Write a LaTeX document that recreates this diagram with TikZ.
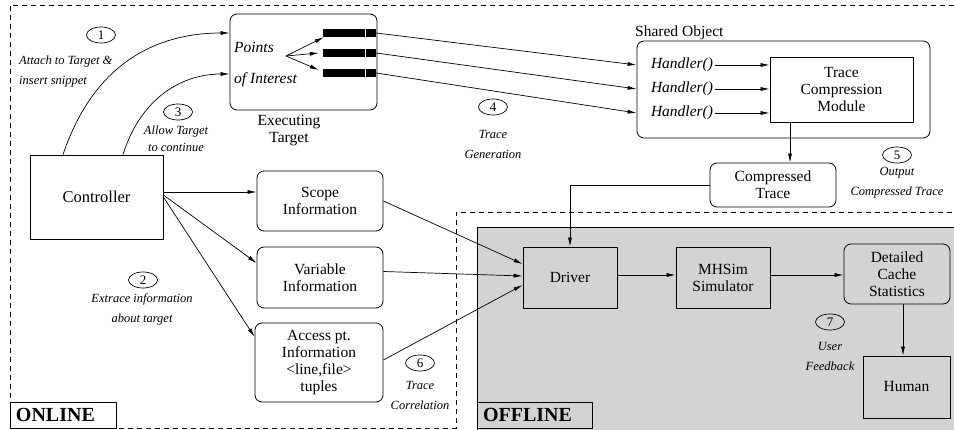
\documentclass[tikz,border=0pt]{standalone}
\usepackage{fontspec}
\setmainfont{Liberation Serif}
\usetikzlibrary{arrows.meta,shapes.geometric}
\definecolor{offgray}{RGB}{211,211,211}

\begin{document}
\begin{tikzpicture}[
    x=1pt, y=-1pt,
    every node/.style={font=\fontsize{15.5}{17}\selectfont},
    box/.style={
      rectangle,
      draw,
      line width=0.8pt,
      align=center,
      inner sep=0pt
    },
    rbox/.style={box, rounded corners=7pt},
    num/.style={ellipse, draw, line width=0.7pt, minimum width=29pt,
      minimum height=16pt, inner sep=0pt, font=\fontsize{13}{13}\selectfont},
    note/.style={align=center, inner sep=0pt, font=\fontsize{12.5}{20}\selectfont\itshape},
    bar/.style={rectangle, fill=black, minimum width=53pt, minimum height=8pt, inner sep=0pt},
    tag/.style={rectangle, draw, line width=0.8pt, inner xsep=6pt, inner ysep=0pt,
      minimum height=26pt, align=left, font=\fontsize{20}{20}\selectfont\bfseries},
    region/.style={dash pattern=on 5pt off 4pt, line width=0.7pt},
    arr/.style={-{Latex[length=9pt,width=4pt]}, line width=0.7pt}
  ]
    \useasboundingbox (0,0) rectangle (954,430);

    % offline area
    \fill[offgray] (477,227) rectangle (955,430);
    \draw[line width=0.8pt] (477,430) -- (477,227) -- (955,227);
    \draw[region] (954,5) -- (10,5) -- (10,428) -- (456,428) -- (456,212) -- (954,212);

    \node[tag, text width=94pt] (online) at (63,415) {ONLINE};
    \node[tag, text width=103pt] (offline) at (534.5,415) {OFFLINE};

    % online part
    \node[box, minimum width=133pt, minimum height=84pt, font=\fontsize{16.5}{17}\selectfont] (ctrl) at (96.5,197) {Controller};

    \node[rbox, minimum width=147pt, minimum height=96pt] (tgt) at (303.5,62) {};
    \node[anchor=west, inner sep=0pt, font=\fontsize{15.5}{17}\selectfont\itshape] (poi1) at (234,47) {Points};
    \node[anchor=west, inner sep=0pt, font=\fontsize{15.5}{17}\selectfont\itshape] (poi2) at (234,80) {of Interest};
    \node[align=center, inner sep=0pt] (tgtlbl) at (289,130.5) {Executing\\Target};
    \coordinate (poi) at (286,56);
    \foreach \i/\y in {1/33, 2/53, 3/73} {
      \node[bar] (bar\i) at (349.5,\y) {};
      \draw[white, line width=0.9pt] ([xshift=-11pt]bar\i.north east) -- ([xshift=-11pt]bar\i.south east);
    }
    \draw[arr] (poi) -- ([xshift=1pt]bar1.south west);
    \draw[arr] (poi) -- ([xshift=-4pt]bar2.west);
    \draw[arr] (poi) -- ([xshift=-4pt,yshift=3pt]bar3.west);

    \node[rbox, minimum width=293pt, minimum height=97pt] (sobj) at (783.5,89.5) {};
    \node[anchor=west, inner sep=0pt] (sobjlbl) at (635,33) {Shared Object};
    \node[box, minimum width=143pt, minimum height=65pt] (tcm) at (841.5,89.5) {Trace\\Compression\\Module};
    \foreach \i/\y in {1/65, 2/89, 3/113} {
      \node[inner sep=0pt, font=\fontsize{15.5}{17}\selectfont\itshape] (h\i) at (682,\y) {Handler()};
      \draw[arr] ([xshift=2pt]h\i.east) -- (h\i.east -| tcm.west);
      \draw[arr] (bar\i.east) -- (h\i -| sobj.west);
    }

    \node[rbox, minimum width=126pt, minimum height=44pt] (ctrace) at (773,185) {Compressed\\Trace};
    \coordinate (tcmout) at ([xshift=-51.5pt]tcm.south);
    \draw[arr] (tcmout) -- (tcmout |- ctrace.north);

    \node[rbox, minimum width=126pt, minimum height=60pt] (scope) at (320,201) {Scope\\Information};
    \node[rbox, minimum width=126pt, minimum height=61pt] (var) at (320,277.5) {Variable\\Information};
    \node[rbox, minimum width=128pt, minimum height=79pt] (access) at (319,362.5) {Access pt.\\Information\\\textless line,file\textgreater\\tuples};

    \draw[arr] ([yshift=5pt]ctrl.east) -- ([yshift=9pt]scope.west);
    \draw[arr] ([yshift=2pt]ctrl.east) -- ([yshift=14.5pt]var.west);
    \draw[arr] (ctrl.east) -- ([yshift=25.5pt]access.west);

    \draw[arr] ([xshift=-33.5pt]ctrl.north) .. controls (95,60) and (160,33) .. ([yshift=29pt]tgt.west);
    \draw[arr] ([xshift=26.5pt]ctrl.north) .. controls (140,100) and (180,74) .. ([yshift=-12pt]tgt.west);

    % offline part
    \node[box, minimum width=94pt, minimum height=61pt] (driver) at (570,277.5) {Driver};
    \node[box, minimum width=94pt, minimum height=61pt] (mhsim) at (723,277.5) {MHSim\\Simulator};
    \node[rbox, minimum width=106pt, minimum height=60pt] (stats) at (897,274) {Detailed\\Cache\\Statistics};
    \node[box, minimum width=87pt, minimum height=62pt] (human) at (906.5,387) {Human};

    \draw[arr] (ctrace.west) -| (driver.north);
    \draw[arr] (scope.east) -- ([yshift=13.5pt]driver.west);
    \draw[arr] ([yshift=6pt]var.east) -- ([yshift=1.5pt]driver.west);
    \draw[arr] ([yshift=2.5pt]access.east) -- ([yshift=-7.5pt]driver.west);
    \draw[arr] ([yshift=2.5pt]driver.east) -- ([yshift=2.5pt]mhsim.west);
    \draw[arr] ([yshift=2.5pt]mhsim.east) -- ([yshift=-1pt]stats.west);
    \coordinate (statsout) at ([xshift=6pt]stats.south);
    \draw[arr] (statsout) -- (statsout |- human.north);

    % step labels
    \node[num] (n1) at (101,35) {1};
    \node[note, anchor=west, align=left] (t1) at (19,71.5) {Attach to Target \&\\insert snippet};
    \node[num] (n2) at (143,280) {2};
    \node[note] (t2) at (142,309) {Extrace information\\about target};
    \node[num] (n3) at (178,112) {3};
    \node[note, font=\fontsize{12.5}{17}\selectfont\itshape] (t3) at (176,138.5) {Allow Target\\to continue};
    \node[num] (n4) at (493,107) {4};
    \node[note] (t4) at (493,144) {Trace\\Generation};
    \node[num] (n5) at (897,155) {5};
    \node[note] (t5) at (897,183) {Output\\Compressed Trace};
    \node[num] (n6) at (420,363) {6};
    \node[note] (t6) at (420,395) {Trace\\Correlation};
    \node[num] (n7) at (830,322) {7};
    \node[note] (t7) at (830,356) {User\\Feedback};
  \end{tikzpicture}
\end{document}
